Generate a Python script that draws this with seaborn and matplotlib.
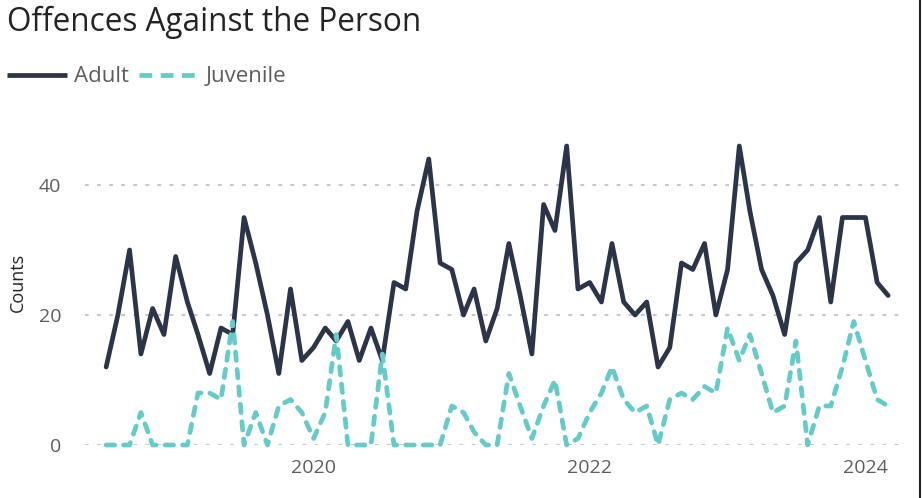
import matplotlib
matplotlib.use('Agg')

import matplotlib.pyplot as plt
import pandas as pd
import seaborn as sns
from matplotlib.dates import DateFormatter
from matplotlib.lines import Line2D

# monthly counts, Jul 2018 .. Mar 2024
months = pd.date_range('2018-07-01', '2024-03-01', freq='MS')
adult = [12, 20, 30, 14, 21, 17, 29, 22, 17, 11, 18, 17, 35, 28, 20, 11, 24, 13,
         15, 18, 16, 19, 13, 18, 13, 25, 24, 36, 44, 28, 27, 20, 24, 16, 21, 31,
         23, 14, 37, 33, 46, 24, 25, 22, 31, 22, 20, 22, 12, 15, 28, 27, 31, 20,
         27, 46, 36, 27, 23, 17, 28, 30, 35, 22, 35, 35, 35, 25, 23]
juvenile = [0, 0, 0, 5, 0, 0, 0, 0, 8, 8, 7, 19, 0, 5, 0, 6, 7, 5,
            1, 5, 17, 0, 0, 0, 14, 0, 0, 0, 0, 0, 6, 5, 2, 0, 0, 11,
            6, 1, 6, 10, 0, 1, 5, 8, 12, 7, 5, 6, 0, 7, 8, 7, 9, 8,
            18, 13, 17, 11, 5, 6, 16, 0, 6, 6, 12, 19, 13, 7, 6]
groups = ['Adult', 'Juvenile']
tick_years = ['2020-01-01', '2022-01-01', '2024-01-01']
y_ticks = [0, 20, 40]

df = pd.DataFrame({
    'month': list(months) * 2,
    'count': adult + juvenile,
    'group': ['Adult'] * len(adult) + ['Juvenile'] * len(juvenile),
})

sns.set_theme(style='white')
plt.rcParams['font.family'] = ['Open Sans', 'DejaVu Sans']

W, H = 922, 498
fig = plt.figure(figsize=(W / 100, H / 100), dpi=100)
ax = fig.add_axes([85 / W, 1 - 445 / H, (904 - 85) / W, (445 - 120) / H])

colors = {'Adult': '#2B3448', 'Juvenile': '#63CBC8'}
sns.lineplot(
    data=df, x='month', y='count', hue='group', style='group',
    hue_order=groups, style_order=groups,
    palette=colors, dashes={'Adult': '', 'Juvenile': (1.8, 1.9)},
    linewidth=3.4, dash_capstyle='round', solid_capstyle='round',
    clip_on=False, legend=False, ax=ax,
)

ax.set_ylim(0, 50)
ax.set_xlim(months[0] - pd.Timedelta(days=56), months[-1] + pd.Timedelta(days=42))
ax.set_yticks(y_ticks)
ax.set_xticks(pd.to_datetime(tick_years))
ax.xaxis.set_major_formatter(DateFormatter('%Y'))
ax.yaxis.grid(True, linestyle=(0, (1.8, 4)), color='#C8C8C8', linewidth=1.5)
ax.xaxis.grid(False)
sns.despine(ax=ax, left=True, bottom=True)
ax.tick_params(axis='both', length=0, labelsize=14, labelcolor='#605E5C')
ax.tick_params(axis='y', pad=17)
ax.tick_params(axis='x', pad=10)
ax.set_xlabel('')
ax.set_ylabel('Counts', fontsize=13, color='#252423', labelpad=9)

fig.text(7 / W, 1 - 31 / H, 'Offences Against the Person', fontsize=22.7,
         color='#252423', ha='left', va='baseline')

handles = [
    Line2D([], [], color=colors['Adult'], linewidth=3.4, solid_capstyle='butt'),
    Line2D([], [], color=colors['Juvenile'], linewidth=3.4, dashes=(2.7, 1.8)),
]
fig.legend(handles, groups, loc='center left', bbox_to_anchor=(7 / W, 1 - 77 / H),
           frameon=False, ncol=2, fontsize=16, handlelength=2.7, handletextpad=0.3,
           columnspacing=0.45, borderpad=0, borderaxespad=0, labelcolor='#605E5C')

fig.add_artist(Line2D([919.5 / W, 919.5 / W], [0, 1], color='#222222', linewidth=1.5))

plt.savefig('out.png', dpi=100)
